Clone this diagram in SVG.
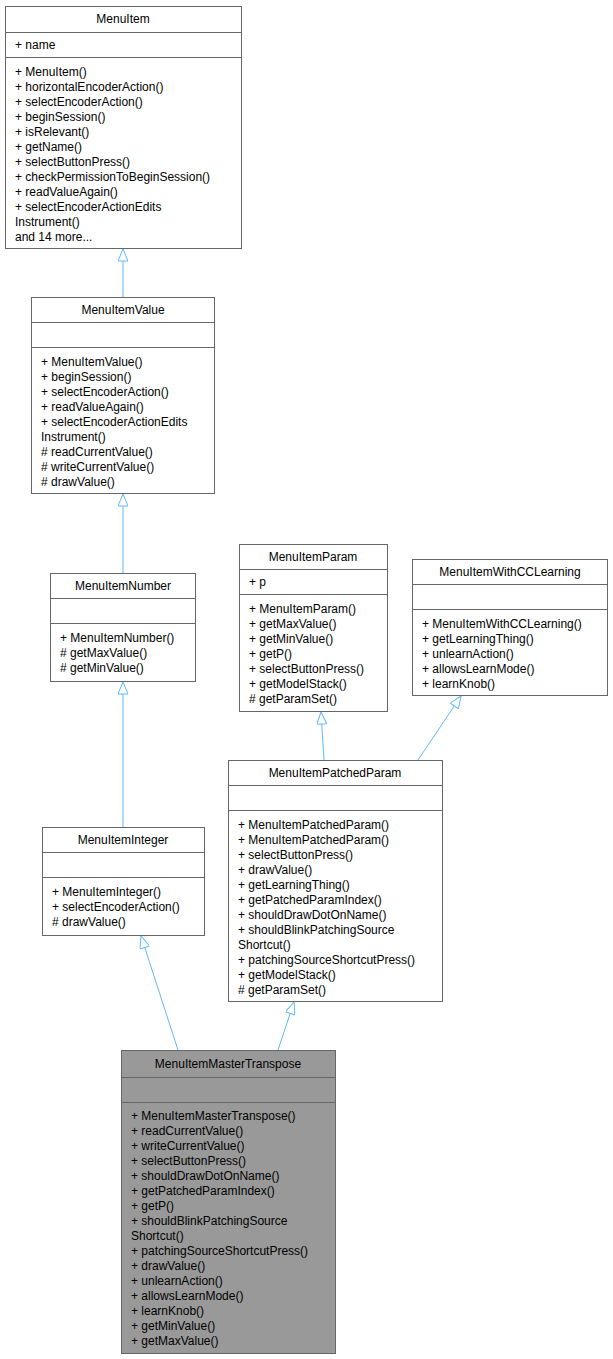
<svg xmlns="http://www.w3.org/2000/svg" width="613" height="1359" viewBox="0 0 613 1359">
<style>
.b{fill:#fff;stroke:#666;stroke-width:1}
.g{fill:#999;stroke:#666;stroke-width:1}
.d{stroke:#666;stroke-width:1}
text{font-family:"Liberation Sans",Arial,sans-serif;font-size:12px;fill:#000}
.c{text-anchor:middle}
.e{fill:none;stroke:#63b8ff;stroke-width:1;marker-end:url(#a)}
</style>
<defs><marker id="a" viewBox="0 0 14 10" refX="13" refY="5" markerWidth="14" markerHeight="10" markerUnits="userSpaceOnUse" orient="auto"><path d="M13,5 L1,0 L1,10 Z" fill="#fff" stroke="#63b8ff"/></marker></defs>
<rect width="613" height="1359" fill="#fff"/>
<g id="edges">
<line class="e" x1="123" y1="297" x2="123" y2="249"/>
<line class="e" x1="123" y1="573" x2="123" y2="494"/>
<line class="e" x1="123" y1="827" x2="123" y2="682"/>
<line class="e" x1="178" y1="1050" x2="141" y2="936"/>
<line class="e" x1="278" y1="1050" x2="294" y2="1002"/>
<line class="e" x1="324" y1="760" x2="321" y2="712"/>
<line class="e" x1="418" y1="760" x2="461" y2="696"/>
</g>
<g id="MenuItem">
<rect class="b" x="5.5" y="6.5" width="236" height="242"/>
<line class="d" x1="5.5" y1="32.5" x2="241.5" y2="32.5"/><line class="d" x1="5.5" y1="57.5" x2="241.5" y2="57.5"/>
<text class="c" x="123" y="23">MenuItem</text>
<text x="15" y="49">+ name</text>
<text x="15" y="76">+ MenuItem()</text>
<text x="15" y="91">+ horizontalEncoderAction()</text>
<text x="15" y="106">+ selectEncoderAction()</text>
<text x="15" y="121">+ beginSession()</text>
<text x="15" y="136">+ isRelevant()</text>
<text x="15" y="151">+ getName()</text>
<text x="15" y="166">+ selectButtonPress()</text>
<text x="15" y="181">+ checkPermissionToBeginSession()</text>
<text x="15" y="196">+ readValueAgain()</text>
<text x="15" y="211">+ selectEncoderActionEdits</text>
<text x="15" y="226">Instrument()</text>
<text x="15" y="241">and 14 more...</text>
</g>
<g id="MenuItemValue">
<rect class="b" x="31.5" y="297.5" width="183" height="196"/>
<line class="d" x1="31.5" y1="322.5" x2="214.5" y2="322.5"/><line class="d" x1="31.5" y1="347.5" x2="214.5" y2="347.5"/>
<text class="c" x="123" y="314">MenuItemValue</text>
<text x="41" y="366">+ MenuItemValue()</text>
<text x="41" y="381">+ beginSession()</text>
<text x="41" y="396">+ selectEncoderAction()</text>
<text x="41" y="411">+ readValueAgain()</text>
<text x="41" y="426">+ selectEncoderActionEdits</text>
<text x="41" y="441">Instrument()</text>
<text x="41" y="456"># readCurrentValue()</text>
<text x="41" y="471"># writeCurrentValue()</text>
<text x="41" y="486"># drawValue()</text>
</g>
<g id="MenuItemNumber">
<rect class="b" x="50.5" y="573.5" width="145" height="108"/>
<line class="d" x1="50.5" y1="598.5" x2="195.5" y2="598.5"/><line class="d" x1="50.5" y1="623.5" x2="195.5" y2="623.5"/>
<text class="c" x="123" y="590">MenuItemNumber</text>
<text x="60" y="642">+ MenuItemNumber()</text>
<text x="60" y="657"># getMaxValue()</text>
<text x="60" y="672"># getMinValue()</text>
</g>
<g id="MenuItemInteger">
<rect class="b" x="42.5" y="827.5" width="162" height="108"/>
<line class="d" x1="42.5" y1="852.5" x2="204.5" y2="852.5"/><line class="d" x1="42.5" y1="877.5" x2="204.5" y2="877.5"/>
<text class="c" x="123" y="844">MenuItemInteger</text>
<text x="52" y="896">+ MenuItemInteger()</text>
<text x="52" y="911">+ selectEncoderAction()</text>
<text x="52" y="926"># drawValue()</text>
</g>
<g id="MenuItemParam">
<rect class="b" x="239.5" y="544.5" width="148" height="167"/>
<line class="d" x1="239.5" y1="569.5" x2="387.5" y2="569.5"/><line class="d" x1="239.5" y1="594.5" x2="387.5" y2="594.5"/>
<text class="c" x="313" y="561">MenuItemParam</text>
<text x="249" y="586">+ p</text>
<text x="249" y="613">+ MenuItemParam()</text>
<text x="249" y="628">+ getMaxValue()</text>
<text x="249" y="643">+ getMinValue()</text>
<text x="249" y="658">+ getP()</text>
<text x="249" y="673">+ selectButtonPress()</text>
<text x="249" y="688">+ getModelStack()</text>
<text x="249" y="703"># getParamSet()</text>
</g>
<g id="MenuItemWithCCLearning">
<rect class="b" x="412.5" y="559.5" width="195" height="136"/>
<line class="d" x1="412.5" y1="584.5" x2="607.5" y2="584.5"/><line class="d" x1="412.5" y1="609.5" x2="607.5" y2="609.5"/>
<text class="c" x="510" y="576">MenuItemWithCCLearning</text>
<text x="422" y="628">+ MenuItemWithCCLearning()</text>
<text x="422" y="643">+ getLearningThing()</text>
<text x="422" y="658">+ unlearnAction()</text>
<text x="422" y="673">+ allowsLearnMode()</text>
<text x="422" y="688">+ learnKnob()</text>
</g>
<g id="MenuItemPatchedParam">
<rect class="b" x="228.5" y="760.5" width="214" height="241"/>
<line class="d" x1="228.5" y1="785.5" x2="442.5" y2="785.5"/><line class="d" x1="228.5" y1="810.5" x2="442.5" y2="810.5"/>
<text class="c" x="335" y="777">MenuItemPatchedParam</text>
<text x="238" y="829">+ MenuItemPatchedParam()</text>
<text x="238" y="844">+ MenuItemPatchedParam()</text>
<text x="238" y="859">+ selectButtonPress()</text>
<text x="238" y="874">+ drawValue()</text>
<text x="238" y="889">+ getLearningThing()</text>
<text x="238" y="904">+ getPatchedParamIndex()</text>
<text x="238" y="919">+ shouldDrawDotOnName()</text>
<text x="238" y="934">+ shouldBlinkPatchingSource</text>
<text x="238" y="949">Shortcut()</text>
<text x="238" y="964">+ patchingSourceShortcutPress()</text>
<text x="238" y="979">+ getModelStack()</text>
<text x="238" y="994"># getParamSet()</text>
</g>
<g id="MenuItemMasterTranspose">
<rect class="g" x="121.5" y="1050.5" width="214" height="303"/>
<line class="d" x1="121.5" y1="1077.5" x2="335.5" y2="1077.5"/><line class="d" x1="121.5" y1="1102.5" x2="335.5" y2="1102.5"/>
<text class="c" x="228" y="1068">MenuItemMasterTranspose</text>
<text x="131" y="1120">+ MenuItemMasterTranspose()</text>
<text x="131" y="1135">+ readCurrentValue()</text>
<text x="131" y="1150">+ writeCurrentValue()</text>
<text x="131" y="1165">+ selectButtonPress()</text>
<text x="131" y="1180">+ shouldDrawDotOnName()</text>
<text x="131" y="1195">+ getPatchedParamIndex()</text>
<text x="131" y="1210">+ getP()</text>
<text x="131" y="1225">+ shouldBlinkPatchingSource</text>
<text x="131" y="1240">Shortcut()</text>
<text x="131" y="1255">+ patchingSourceShortcutPress()</text>
<text x="131" y="1270">+ drawValue()</text>
<text x="131" y="1285">+ unlearnAction()</text>
<text x="131" y="1300">+ allowsLearnMode()</text>
<text x="131" y="1315">+ learnKnob()</text>
<text x="131" y="1330">+ getMinValue()</text>
<text x="131" y="1345">+ getMaxValue()</text>
</g>
</svg>
